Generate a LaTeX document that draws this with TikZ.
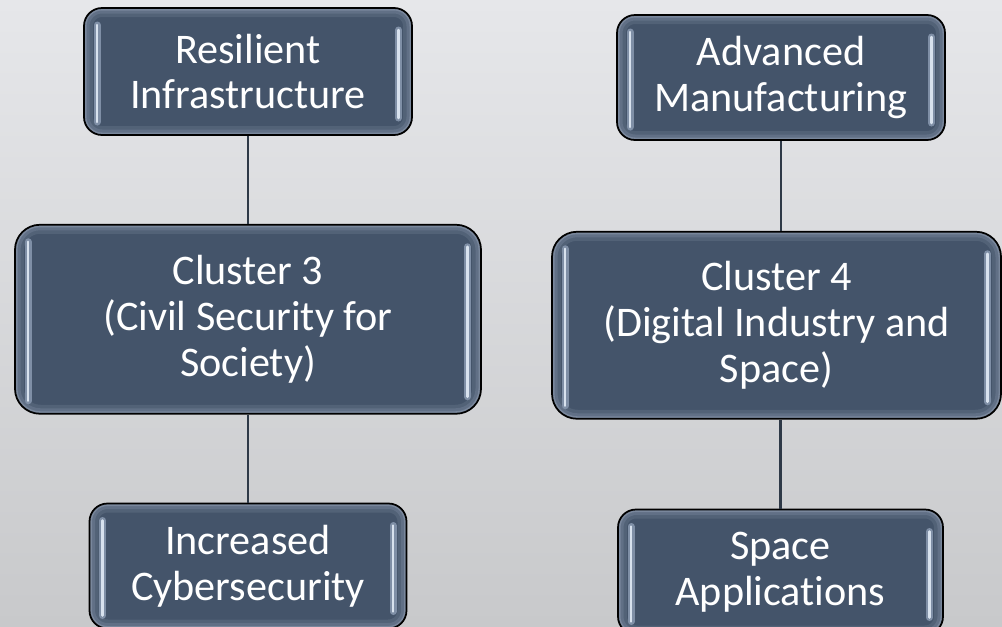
\documentclass[tikz,border=0pt]{standalone}
\usepackage{fontspec}
\setmainfont{Carlito}[Ligatures=NoCommon]
\usepackage{tikz}
\usetikzlibrary{positioning}
\usetikzlibrary{calc}
\definecolor{boxfill}{HTML}{44546A}
\definecolor{rimcol}{HTML}{8A98AC}
\definecolor{hlcol}{HTML}{D8E2EE}
\definecolor{hlglow}{HTML}{7F8FA6}
\definecolor{linkcol}{HTML}{2E3947}
\definecolor{bgtop}{HTML}{E6E7EA}
\definecolor{bgbot}{HTML}{C8C9CB}
\tikzstyle{block} = [draw=black, line width=0.035cm, fill=boxfill, text=white, align=center,
    inner sep=0pt, rounded corners=#1,
    font=\fontsize{24}{26}\selectfont,
    path picture={
        \draw[line width=0.36cm, rimcol!20!boxfill, rounded corners=#1] (path picture bounding box.south west) rectangle (path picture bounding box.north east);
        \draw[line width=0.22cm, rimcol!42!boxfill, rounded corners=#1] (path picture bounding box.south west) rectangle (path picture bounding box.north east);
        \draw[line width=0.10cm, rimcol!75!boxfill, rounded corners=#1] (path picture bounding box.south west) rectangle (path picture bounding box.north east);
        \draw[line width=0.14cm, hlglow, line cap=round] ([xshift=0.26cm,yshift=-0.34cm]path picture bounding box.north west) -- ([xshift=0.26cm,yshift=0.26cm]path picture bounding box.south west);
        \draw[line width=0.14cm, hlglow, line cap=round] ([xshift=-0.27cm,yshift=-0.44cm]path picture bounding box.north east) -- ([xshift=-0.27cm,yshift=0.34cm]path picture bounding box.south east);
        \draw[line width=0.05cm, hlcol, line cap=round] ([xshift=0.26cm,yshift=-0.34cm]path picture bounding box.north west) -- ([xshift=0.26cm,yshift=0.26cm]path picture bounding box.south west);
        \draw[line width=0.05cm, hlcol, line cap=round] ([xshift=-0.27cm,yshift=-0.44cm]path picture bounding box.north east) -- ([xshift=-0.27cm,yshift=0.34cm]path picture bounding box.south east);
    }]
\tikzstyle{link} = [draw=linkcol, line width=0.05cm]

\begin{document}
\begin{tikzpicture}
            \shade[top color=bgtop, bottom color=bgbot] (0,0) rectangle (20.04,-12.52);
            \useasboundingbox (0,0) rectangle (20.04,-12.52);

            % left column
            \node (resilient) [block=0.36cm, minimum width=6.56cm, minimum height=2.54cm] at (4.96,-1.43) {Resilient\\Infrastructure};
            \node (cluster3) [block=0.5cm, minimum width=9.32cm, minimum height=3.78cm, below=1.76cm of resilient] {Cluster 3\\(Civil Security for\\Society)};
            \node (cyber) [block=0.36cm, minimum width=6.34cm, minimum height=2.50cm, below=1.76cm of cluster3] {Increased\\Cybersecurity};

            % right column
            \node (advanced) [block=0.36cm, minimum width=6.56cm, minimum height=2.50cm] at (15.62,-1.55) {Advanced\\Manufacturing};
            \node (cluster4) [block=0.5cm, minimum width=8.98cm, minimum height=3.74cm, below=1.80cm of advanced, xshift=-0.09cm] {Cluster 4\\(Digital Industry and\\Space)};
            \node (space) [block=0.36cm, minimum width=6.50cm, minimum height=2.50cm, below=1.78cm of cluster4, xshift=0.08cm] {Space\\Applications};

            \draw [link] (resilient) -- (cluster3);
            \draw [link] (cluster3) -- (cyber.north -| cluster3);
            \draw [link] (advanced) -- (advanced |- cluster4.north);
            \draw [link] (cluster4.south -| space) -- (space);
\end{tikzpicture}
\end{document}
